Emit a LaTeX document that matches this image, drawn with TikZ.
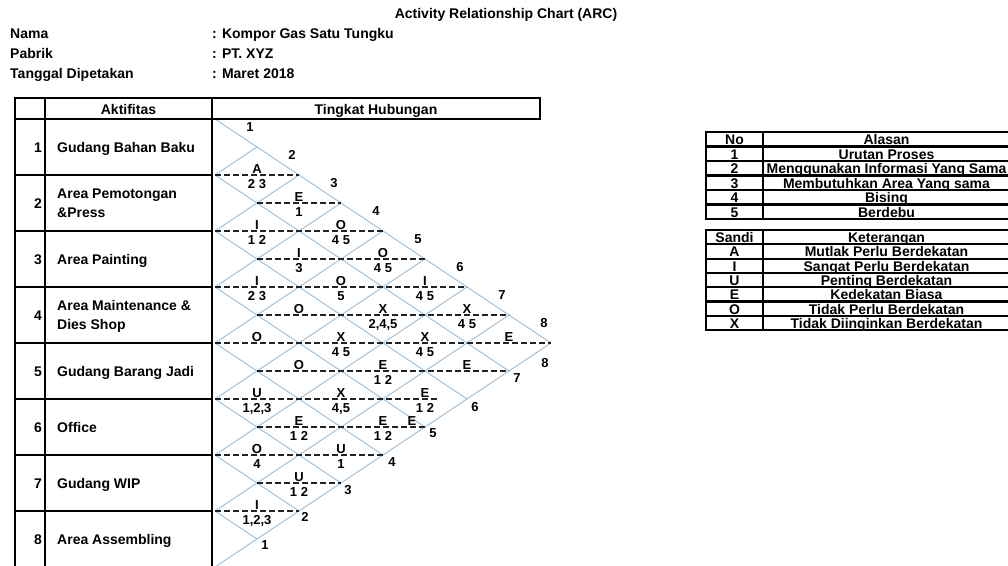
\documentclass[tikz,border=0pt]{standalone}
\usepackage{fontspec}
\setmainfont{Liberation Sans}
\definecolor{latt}{RGB}{150,188,218}
\definecolor{dsh}{RGB}{35,35,35}
\begin{document}
\begin{tikzpicture}[x=1pt,y=-1pt,
  font=\bfseries\fontsize{14}{16}\selectfont,
  tbl/.style={line width=2.4pt,line cap=rect},
  rtbl/.style={line width=2.1pt,line cap=rect},
  gridline/.style={draw=latt,line width=0.9pt},
  dline/.style={draw=dsh,line width=1.7pt,dash pattern=on 6pt off 3pt},
  tx/.style={inner sep=0pt,anchor=base},
  txw/.style={inner sep=0pt,anchor=base west},
  small/.style={inner sep=0pt,font=\bfseries\fontsize{13}{15}\selectfont}
]
\useasboundingbox (0,0) rectangle (1008,565);
\clip (0,0) rectangle (1008,565);

% ---- header texts
\node[tx] (title) at (506,18) {Activity Relationship Chart (ARC)};
\node[txw] (nama) at (10,38) {Nama};
\node[txw] (pabrik) at (10,58) {Pabrik};
\node[txw] (tgl) at (10,78.5) {Tanggal Dipetakan};
\node[txw] (namav) at (212,38) {: Kompor Gas Satu Tungku};
\node[txw] (pabrikv) at (212,58) {: PT. XYZ};
\node[txw] (tglv) at (212,78.5) {: Maret 2018};

% ---- lattice
\foreach \m in {0,...,7}{
  \draw[gridline] (215,{119+56*\m}) -- ({551-42*\m},{343+28*\m});
  \draw[gridline] (215,{175+56*\m}) -- ({215+42*(\m+1)},{119+28*(\m+1)});
}

% ---- dashed lines
\foreach \y/\a/\b in {175/215/299,203/257/341,231/215/383,259/257/425,287/215/467,
  315/257/509,343/215/551,371/257/509,399/215/438,427/257/425,455/215/383,
  483/257/341,511/215/299}{
  \draw[dline] (\a,\y) -- (\b,\y);
}

% ---- relationship letters and reasons
\foreach \x/\y/\l/\r in {257/175/A/2 3, 299/203/E/1, 257/231/I/1 2, 341/231/O/4 5,
  299/259/I/3, 383/259/O/4 5, 257/287/I/2 3, 341/287/O/5, 425/287/I/4 5,
  299/315/O/, 383/315/X/{2,4,5}, 467/315/X/4 5,
  257/343/O/, 341/343/X/4 5, 425/343/X/4 5, 509/343/E/,
  299/371/O/, 383/371/E/1 2, 467/371/E/,
  257/399/U/{1,2,3}, 341/399/X/{4,5}, 425/399/E/1 2,
  299/427/E/1 2, 383/427/E/1 2,
  257/455/O/4, 341/455/U/1, 299/483/U/1 2, 257/511/I/{1,2,3}}{
  \node[small,anchor=base] (ltr-\x-\y) at (\x,\y-1.5) {\l};
  \node[small,anchor=base] (rsn-\x-\y) at (\x,\y+13) {\r};
}
\node[small,anchor=base] (strayE) at (412,425.5) {E};

% ---- edge numbers
\foreach \k in {1,...,8}{
  \node[small] (up-\k) at ({250+42*(\k-1)},{127+28*(\k-1)}) {\k};
}
\foreach \x/\y/\k in {265/545/1,305/517/2,348/490/3,392/462/4,433/433/5,475/407/6,517/378/7,545/363/8}{
  \node[small] (lo-\k) at (\x,\y) {\k};
}

% ---- left table
\draw[tbl] (15,98) -- (540,98) -- (540,119) -- (15,119);
\draw[tbl] (15,98) -- (15,567);
\draw[tbl] (45,98) -- (45,567);
\draw[tbl] (212,98) -- (212,567);
\foreach \r in {1,...,8}{
  \draw[tbl] (15,{119+56*\r}) -- (212,{119+56*\r});
}
\node[tx] (hAkt) at (128.5,114.5) {Aktifitas};
\node[tx] (hTing) at (376,114.5) {Tingkat Hubungan};
\foreach \i in {1,...,8}{
  \node[inner sep=0pt,anchor=base east] (no-\i) at (42,{147+56*(\i-1)+5}) {\i};
}
\node[txw] (a1) at (57,152) {Gudang Bahan Baku};
\node[txw] (a2a) at (57,198) {Area Pemotongan};
\node[txw] (a2b) at (57,217) {\&Press};
\node[txw] (a3) at (57,264) {Area Painting};
\node[txw] (a4a) at (57,310) {Area Maintenance \&};
\node[txw] (a4b) at (57,329) {Dies Shop};
\node[txw] (a5) at (57,376) {Gudang Barang Jadi};
\node[txw] (a6) at (57,432) {Office};
\node[txw] (a7) at (57,488) {Gudang WIP};
\node[txw] (a8) at (57,544) {Area Assembling};

% ---- right table 1
\foreach \k in {0,...,6}{
  \draw[rtbl] (706,{132+14.5*\k}) -- (1012,{132+14.5*\k});
}
\draw[rtbl] (706,132) -- (706,219);
\draw[rtbl] (763,132) -- (763,219);
\draw[rtbl] (1010,132) -- (1010,219);
\foreach \k/\n/\t in {1/No/Alasan,2/1/Urutan Proses,3/2/Menggunakan Informasi Yang Sama,
  4/3/Membutuhkan Area Yang sama,5/4/Bising,6/5/Berdebu}{
  \node[tx] (r1n-\k) at (734.5,{132+14.5*\k-1.8}) {\n};
  \node[tx] (r1t-\k) at (886.5,{132+14.5*\k-1.8}) {\t};
}

% ---- right table 2
\foreach \k in {0,...,7}{
  \draw[rtbl] (706,{230+14.3*\k}) -- (1012,{230+14.3*\k});
}
\draw[rtbl] (706,230) -- (706,330.1);
\draw[rtbl] (763,230) -- (763,330.1);
\draw[rtbl] (1010,230) -- (1010,330.1);
\foreach \k/\n/\t in {1/Sandi/Keterangan,2/A/Mutlak Perlu Berdekatan,3/I/Sangat Perlu Berdekatan,
  4/U/Penting Berdekatan,5/E/Kedekatan Biasa,6/O/Tidak Perlu Berdekatan,7/X/Tidak Diinginkan Berdekatan}{
  \node[tx] (r2n-\k) at (734.5,{230+14.3*\k-1.8}) {\n};
  \node[tx] (r2t-\k) at (886.5,{230+14.3*\k-1.8}) {\t};
}
\end{tikzpicture}
\end{document}
